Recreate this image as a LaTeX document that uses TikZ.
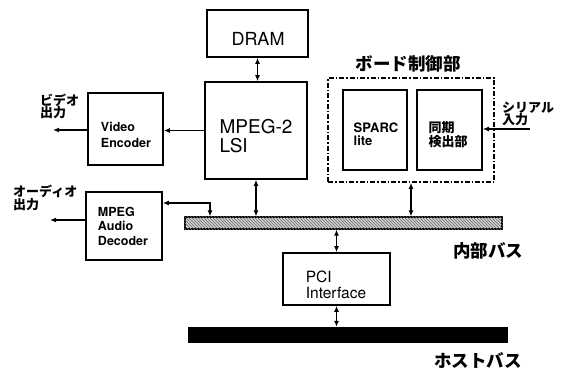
\documentclass[tikz,border=0pt]{standalone}
\usepackage{fontspec}
\setmainfont{TeX Gyre Heros}
\newfontfamily\jp{Noto Sans CJK JP}
\usetikzlibrary{arrows.meta,patterns}
\begin{document}
\begin{tikzpicture}[x=1pt,y=-1pt,
  box/.style={draw,line width=1.6pt,inner sep=0pt},
  txt/.style={inner sep=0pt,align=left},
  conn/.style={line width=1.4pt},
  tip/.style={conn,-{Latex[length=6pt,width=5pt]}},
  dbl/.style={conn,{Latex[length=6pt,width=5pt]}-{Latex[length=6pt,width=5pt]}},
  jlab/.style={inner sep=0pt,align=left,font=\jp\bfseries\fontsize{13}{12.5}\selectfont},
  jbig/.style={inner sep=0pt,font=\jp\bfseries\fontsize{17.5}{20}\selectfont}
]
\useasboundingbox (0,0) rectangle (567,371);

% boxes
\node[box,minimum width=101pt,minimum height=47pt] (dram) at (257.5,33.5) {};
\node[box,minimum width=102pt,minimum height=97pt] (lsi) at (256,130.5) {};
\node[box,minimum width=75pt,minimum height=72pt] (venc) at (125.5,129) {};
\node[box,minimum width=76pt,minimum height=68pt] (adec) at (124,226) {};
\node[draw,line width=1.6pt,inner sep=0pt,dash pattern=on 5pt off 2pt on 1.5pt off 2pt,
      minimum width=166pt,minimum height=104pt] (board) at (411,130) {};
\node[box,minimum width=64pt,minimum height=80pt] (sparc) at (375,130) {};
\node[box,minimum width=65pt,minimum height=80pt] (sync) at (449.5,130) {};
\node[box,minimum width=107pt,minimum height=52pt] (pci) at (336.5,279) {};
\node[draw,line width=1.2pt,inner sep=0pt,fill=gray!35,minimum width=317pt,minimum height=12pt] (ibus) at (343.5,223) {};
\fill[pattern=north west lines,pattern color=gray!80!black] (ibus.south west) rectangle (ibus.north east);
\node[draw,fill=black,inner sep=0pt,minimum width=319pt,minimum height=15pt] (hbus) at (347.5,334.5) {};

% texts in boxes
\node[txt,font=\fontsize{18}{20}\selectfont] (tdram) at (258,38.5) {DRAM};
\node[txt,font=\fontsize{19}{18.5}\selectfont] (tlsi) at (256,136) {MPEG-2\\LSI};
\node[txt,font=\bfseries\fontsize{12.5}{16}\selectfont] (tvenc) at (126,134.5) {Video\\Encoder};
\node[txt,font=\bfseries\fontsize{12.5}{14.5}\selectfont] (tadec) at (123,226) {MPEG\\Audio\\Decoder};
\node[txt,font=\bfseries\fontsize{13}{13}\selectfont] (tsparc) at (376,134) {SPARC\\lite};
\node[jlab,font=\jp\bfseries\fontsize{13}{14.5}\selectfont] (tsync) at (448,134.5) {同期\\検出部};
\node[txt,font=\fontsize{15.5}{16}\selectfont] (tpci) at (336,285) {PCI\\Interface};

% outside labels
\node[jbig] (lboard) at (408,64) {ボード制御部};
\node[jbig] (libus) at (488,251) {内部バス};
\node[jbig] (lhbus) at (478,360) {ホストバス};
\node[jlab,anchor=west] (lvout) at (40,106.5) {ビデオ\\出力};
\node[jlab,anchor=west] (laout) at (13,198) {オーディオ\\出力};
\node[jlab,anchor=west] (lsin) at (502,114) {シリアル\\入力};

% free ends
\coordinate (vout) at (53,130);
\coordinate (aout) at (50,220);
\coordinate (sin) at (530,129);
\coordinate (a1) at (210,203);

% connectors
\draw[dbl] (dram.south) -- (dram.south |- lsi.north);
\draw[tip] (lsi.west) -- (lsi.west -| venc.east);
\draw[tip] (venc.west |- vout) -- (vout);
\draw[tip] (adec.west |- aout) -- (aout);
\draw[dbl] (adec.east |- a1) -| (a1 |- ibus.north);
\draw[dbl] (lsi.south) -- (lsi.south |- ibus.north);
\draw[dbl] (board.south) -- (board.south |- ibus.north);
\draw[tip] (sin) -- (sin -| sync.east);
\draw[dbl] (pci.north |- ibus.south) -- (pci.north);
\draw[dbl] (pci.south) -- (pci.south |- hbus.north);
\end{tikzpicture}
\end{document}
